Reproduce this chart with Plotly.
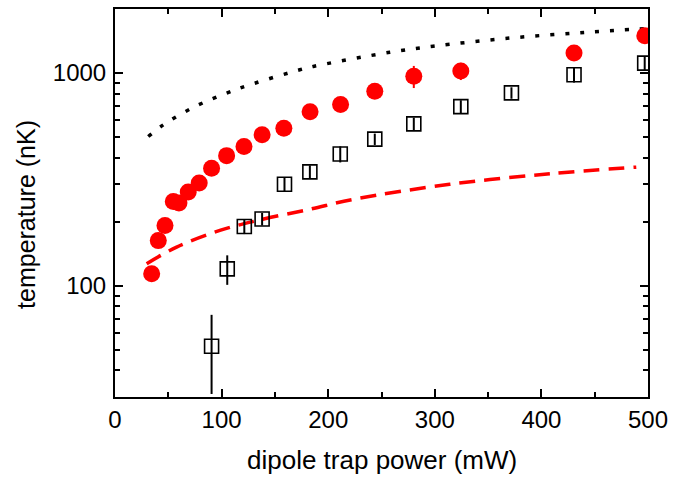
import plotly.graph_objects as go

# Red filled circles (measured temperature)
red_power = [34.4, 40.6, 46.9, 54.7, 60.0, 68.7, 79.0, 90.6, 104.7, 121.0, 138.0, 158.4, 183.0, 211.6, 243.7, 280.3, 324.4, 430.6, 497.0]
red_temp = [114, 163, 192, 249, 245, 276, 304, 357, 409, 451, 513, 550, 658, 712, 822, 965, 1022, 1243, 1498]
red_err = [6, 8, 9, 12, 12, 13, 14, 16, 18, 20, 22, 24, 28, 30, 35, 115, 95, 55, 65]

# Open squares
sq_power = [90.6, 105.3, 121.3, 138.0, 159.0, 182.8, 211.3, 243.7, 280.3, 324.4, 371.9, 430.6, 496.9]
sq_temp = [52, 120, 190, 206, 300, 343, 416, 489, 577, 695, 807, 982, 1113]
sq_err = [21, 19, 15, 14, 22, 25, 36, 30, 40, 50, 50, 80, 80]

# Dotted black curve
dot_power = [31.2, 45.3, 73.4, 102.2, 129.7, 173.4, 186.0, 257.8, 298.4, 370.3, 440.6, 500.0]
dot_temp = [503, 571, 689, 796, 891, 1036, 1074, 1252, 1336, 1460, 1552, 1620]

# Dashed red curve
dash_power = [29.7, 57.8, 98.4, 135.9, 182.8, 224.0, 314.0, 407.8, 489.0]
dash_temp = [127, 152, 182, 204, 229, 255, 300, 336, 361]

x_ticks = [0, 100, 200, 300, 400, 500]
y_ticks = [100, 1000]
y_minor = [30, 40, 50, 60, 70, 80, 90, 200, 300, 400, 500, 600, 700, 800, 900, 2000]

FONT = "Liberation Sans, Arial, sans-serif"

fig = go.Figure()

fig.add_trace(go.Scatter(
    x=dot_power, y=dot_temp, mode="lines", line_shape="spline",
    line=dict(color="black", width=3.5, dash="4px,11px"), showlegend=False))

fig.add_trace(go.Scatter(
    x=dash_power, y=dash_temp, mode="lines", line_shape="spline",
    line=dict(color="#ff0000", width=3.5, dash="16px,9px"), showlegend=False))

fig.add_trace(go.Scatter(
    x=sq_power, y=sq_temp, mode="markers",
    marker=dict(symbol="square-open", size=14, color="black", line=dict(width=1.6, color="black")),
    error_y=dict(type="data", array=sq_err, color="black", thickness=2, width=0),
    showlegend=False))

fig.add_trace(go.Scatter(
    x=red_power, y=red_temp, mode="markers",
    marker=dict(symbol="circle", size=17, color="#ff0000", line=dict(width=0)),
    error_y=dict(type="data", array=red_err, color="#ff0000", thickness=2, width=0),
    showlegend=False))

axis_common = dict(
    showline=True, linecolor="black", linewidth=2, mirror="ticks",
    ticks="inside", tickcolor="black", tickwidth=1.8, ticklen=8,
    showgrid=False, zeroline=False,
    tickfont=dict(family=FONT, size=24, color="black"),
)

fig.update_xaxes(
    range=[0, 500], tickvals=x_ticks, ticktext=[str(v) for v in x_ticks],
    minor=dict(ticks="inside", ticklen=5, tickwidth=1.8, tickcolor="black", dtick=50, tick0=0),
    ticklabelstandoff=0,
    **axis_common)

fig.update_yaxes(
    type="log", range=[1.4771, 3.3010], tickvals=y_ticks, ticktext=[str(v) for v in y_ticks],
    minor=dict(ticks="inside", ticklen=5, tickwidth=1.8, tickcolor="black", tickvals=y_minor),
    ticklabelstandoff=2,
    **axis_common)

fig.add_annotation(
    text="dipole trap power (mW)", xref="paper", yref="paper",
    x=0.5, y=(397 - 460) / 390, xanchor="center", yanchor="middle",
    showarrow=False, font=dict(family=FONT, size=26, color="black"))

fig.add_annotation(
    text="temperature (nK)", xref="paper", yref="paper", textangle=-90,
    x=(26 - 115) / 533, y=(397 - 214) / 390, xanchor="center", yanchor="middle",
    showarrow=False, font=dict(family=FONT, size=25, color="black"))

fig.update_layout(
    width=696, height=477,
    margin=dict(l=115, r=48, t=7, b=80),
    paper_bgcolor="white", plot_bgcolor="white",
)

fig.write_html("out.html", config={"displayModeBar": False},
               post_script="document.body.style.margin='0px';")
